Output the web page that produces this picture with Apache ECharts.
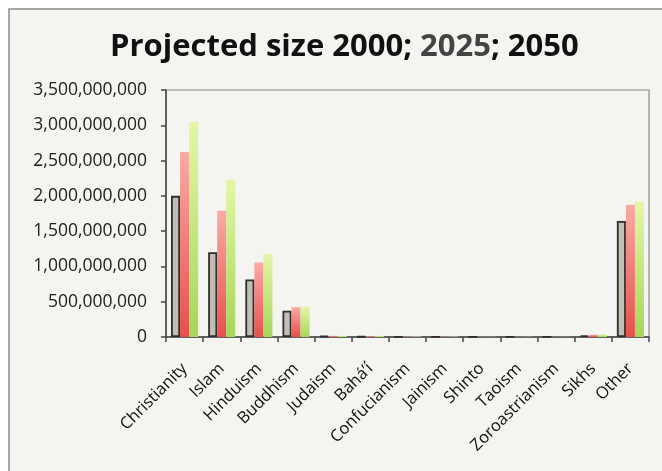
<!DOCTYPE html>
<html><head><meta charset="utf-8">
<script src="https://cdn.jsdelivr.net/npm/echarts@6/dist/echarts.min.js"></script>
<style>html,body{margin:0;padding:0;background:#fff}#c{width:662px;height:471px}</style>
</head><body><div id="c"></div>
<script>
const categories = ['Christianity','Islam','Hinduism','Buddhism','Judaism','Bahá\u2019í','Confucianism','Jainism','Shinto','Taoism','Zoroastrianism','Sikhs','Other'];
const y2000 = [2000000000,1200000000,815000000,372000000,14000000,7000000,6000000,4000000,3000000,2700000,2500000,23000000,1643000000];
const y2025 = [2620000000,1790000000,1055000000,422000000,16000000,12000000,6500000,5500000,3000000,3000000,2500000,31000000,1875000000];
const y2050 = [3050000000,2230000000,1175000000,425000000,17000000,18000000,7000000,6500000,3000000,3200000,2500000,37000000,1925000000];
const seriesNames = ['2000','2025','2050'];
const yTicks = {min:0, max:3500000000, interval:500000000};

const chart = echarts.init(document.getElementById('c'));
const grad = (a,b)=>new echarts.graphic.LinearGradient(0,0,0,1,[{offset:0,color:a},{offset:1,color:b}]);
chart.setOption({
  backgroundColor:'#ffffff',
  animation:false,
  graphic:[{type:'rect',shape:{x:9,y:9,width:700,height:500},style:{fill:'#f4f4f0',stroke:'#8a8a8a',lineWidth:1.5},z:-10},
           {type:'rect',shape:{x:166,y:90,width:483,height:247},style:{fill:'none',stroke:'#888',lineWidth:1.2},z:-5}],
  title:{
    text:'{a|Projected size 2000; }{b|2025}{a|; 2050}',
    left:105, top:27,
    textStyle:{rich:{
      a:{fontFamily:'Open Sans',fontWeight:'bold',fontSize:31,color:'#111'},
      b:{fontFamily:'Open Sans',fontWeight:'bold',fontSize:31,color:'#444'}
    }}
  },
  grid:{left:166,top:90,right:13,bottom:134,containLabel:false},
  xAxis:{type:'category',data:categories,
    axisLine:{lineStyle:{color:'#444',width:1.5}},
    axisTick:{show:true,alignWithLabel:false,length:5,lineStyle:{color:'#444',width:1.5}},
    axisLabel:{rotate:45,interval:0,fontFamily:'Open Sans',fontSize:16.5,color:'#111',margin:29}
  },
  yAxis:{type:'value',min:yTicks.min,max:yTicks.max,interval:yTicks.interval,
    axisLine:{show:true,lineStyle:{color:'#444',width:1.5}},
    axisTick:{show:true,length:5,lineStyle:{color:'#444',width:1.5}},
    splitLine:{show:false},
    axisLabel:{fontFamily:'Open Sans',fontSize:17.5,color:'#222',margin:19,
      formatter:v=>v.toLocaleString('en-US')}
  },
  series:[
    {name:seriesNames[0],type:'bar',data:y2000,barGap:'0%',barCategoryGap:'27%',
     itemStyle:{color:'#c2beb4',borderColor:'#2e2e2e',borderWidth:1.8}},
    {name:seriesNames[1],type:'bar',data:y2025,
     itemStyle:{color:grad('#fbaaa6','#e6504c')}},
    {name:seriesNames[2],type:'bar',data:y2050,
     itemStyle:{color:grad('#e4f6a6','#a6d65a')}}
  ]
});
</script></body></html>
